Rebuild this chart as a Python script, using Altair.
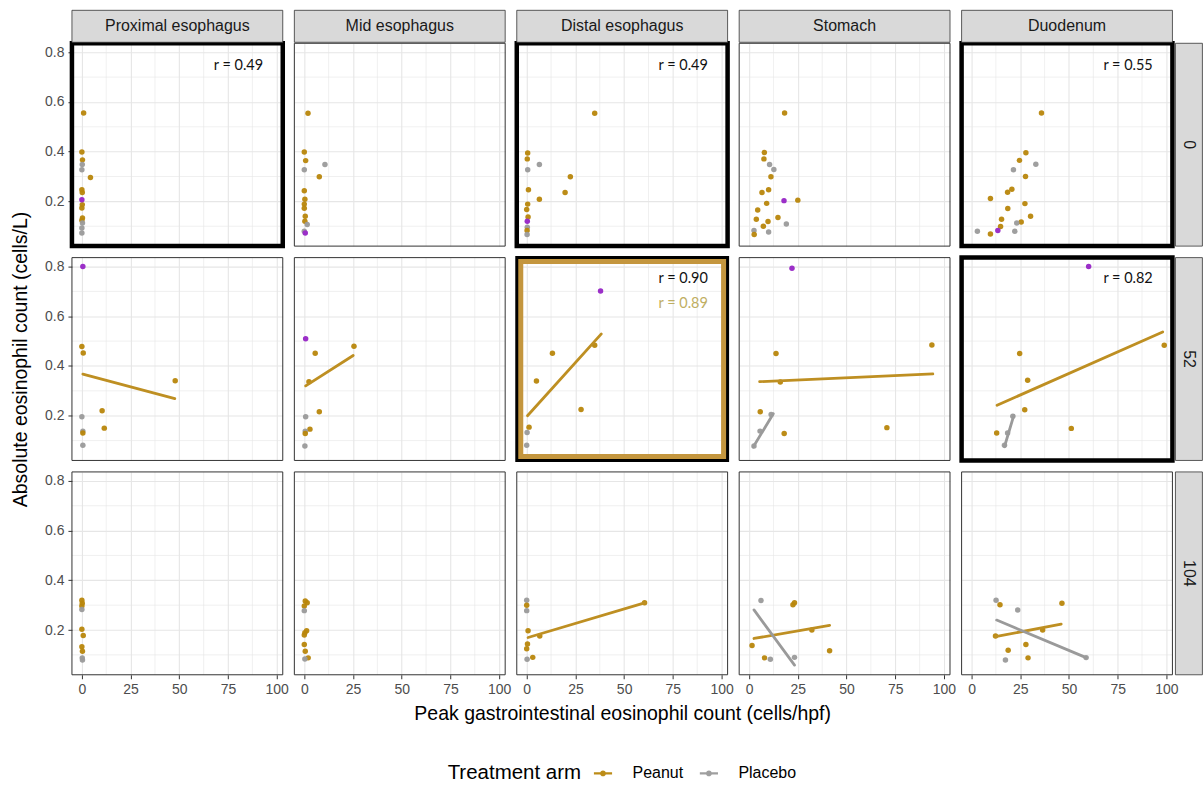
import altair as alt
import pandas as pd

SITES = ["Proximal esophagus", "Mid esophagus", "Distal esophagus", "Stomach", "Duodenum"]
WEEKS = ["0", "52", "104"]
ARMS = ["Peanut", "Placebo"]
ARM_COLORS = ["#B8860B", "#9A9A9A"]
HIGHLIGHT_COLOR = "#9B2FC8"

X_TICKS = [0, 25, 50, 75, 100]
X_MINOR = [12.5, 37.5, 62.5, 87.5]
Y_TICKS = [0.2, 0.4, 0.6, 0.8]
Y_MINOR = [0.1, 0.3, 0.5, 0.7]

P, C, H = "Peanut", "Placebo", "Highlight"

# ---- points (peak GI eos, absolute eos count, arm) ----
prox_0 = [(0.9, 0.556, P), (0, 0.399, P), (0.3, 0.367, P), (0.2, 0.348, C), (0, 0.327, C),
          (4.4, 0.296, P), (0, 0.247, P), (0.2, 0.236, P), (0, 0.207, H), (0.2, 0.187, P),
          (0, 0.173, P), (0.3, 0.133, P), (0, 0.124, P), (0.3, 0.113, C), (0, 0.093, C), (0, 0.073, C)]
mid_0 = [(1.9, 0.555, P), (0, 0.399, P), (0.7, 0.364, P), (10.6, 0.348, C), (0, 0.327, C),
         (7.7, 0.299, P), (0, 0.243, P), (0.3, 0.209, P), (0, 0.189, P), (0, 0.172, P),
         (0.5, 0.14, P), (0.3, 0.12, P), (1.5, 0.107, C), (0, 0.08, C), (0.5, 0.073, H)]
distal_0 = [(34.9, 0.555, P), (0.5, 0.395, P), (0.3, 0.371, P), (6.5, 0.348, C), (0.5, 0.327, C),
            (22.4, 0.299, P), (0.9, 0.247, P), (19.7, 0.236, P), (6.5, 0.209, P), (0.5, 0.189, P),
            (0, 0.167, P), (0.7, 0.137, P), (0.3, 0.096, C), (0.2, 0.083, P), (0.2, 0.067, C), (0.3, 0.12, H)]
stomach_0 = [(18.2, 0.556, P), (7.8, 0.397, P), (7.6, 0.371, P), (10.5, 0.348, C), (12.7, 0.328, C),
             (11.2, 0.299, P), (10, 0.247, P), (6.6, 0.236, P), (25.0, 0.205, P), (9.0, 0.192, P),
             (4.4, 0.165, P), (3.7, 0.128, P), (9.7, 0.119, P), (14.8, 0.135, P), (7.3, 0.1, P),
             (19.1, 0.109, C), (10, 0.077, C), (2.5, 0.083, C), (2.6, 0.067, P), (17.9, 0.203, H)]
duod_0 = [(35.9, 0.556, P), (27.9, 0.396, P), (24.6, 0.365, P), (33, 0.349, C), (21.5, 0.327, C),
          (27.7, 0.3, P), (20.7, 0.249, P), (18.5, 0.237, P), (9.7, 0.212, P), (27.4, 0.191, P),
          (18.6, 0.171, P), (15.4, 0.128, P), (30.3, 0.14, P), (25.5, 0.117, P), (23.2, 0.113, C),
          (14.9, 0.099, P), (22.2, 0.08, C), (3.0, 0.08, C), (9.7, 0.069, P), (13.5, 0.083, H)]

prox_52 = [(0, 0.478, P), (0.7, 0.452, P), (47.9, 0.341, P), (10.4, 0.22, P), (11.5, 0.15, P),
           (0, 0.196, C), (0.5, 0.138, C), (0.5, 0.13, P), (0.5, 0.081, C), (0.5, 0.8, H)]
mid_52 = [(5.6, 0.451, P), (25.5, 0.479, P), (2.4, 0.337, P), (7.7, 0.216, P), (0.7, 0.196, C),
          (2.9, 0.146, P), (0.5, 0.138, C), (0.5, 0.128, P), (0.3, 0.078, C), (0.7, 0.51, H)]
distal_52 = [(13.2, 0.451, P), (34.9, 0.483, P), (5.0, 0.34, P), (27.9, 0.225, P), (1.2, 0.154, P),
             (0.2, 0.132, C), (0, 0.081, C), (37.9, 0.702, H)]
stomach_52 = [(93.8, 0.484, P), (13.8, 0.45, P), (16, 0.336, P), (5.7, 0.216, P), (18, 0.128, P),
              (70.7, 0.152, P), (2.5, 0.078, C), (5.6, 0.138, C), (11.3, 0.205, C), (22, 0.793, H)]
duod_52 = [(98.9, 0.483, P), (24.7, 0.45, P), (28.8, 0.343, P), (27.3, 0.224, P), (51.2, 0.149, P),
           (12.9, 0.13, P), (16.9, 0.081, C), (18.5, 0.13, C), (21.2, 0.198, C), (60.1, 0.8, H)]

prox_104 = [(0, 0.32, P), (0.2, 0.308, P), (0, 0.297, P), (0, 0.283, C), (0, 0.203, P),
            (0.7, 0.178, P), (0, 0.133, P), (0.3, 0.115, P), (0.2, 0.088, C), (0.3, 0.079, C)]
mid_104 = [(0.5, 0.317, P), (1.5, 0.31, P), (0, 0.297, P), (0, 0.278, C), (1.2, 0.197, P),
           (0.3, 0.189, P), (0, 0.18, P), (0, 0.142, P), (0.5, 0.115, P), (2, 0.088, P), (0.3, 0.083, C)]
distal_104 = [(0, 0.32, C), (0, 0.3, P), (0, 0.278, C), (0.7, 0.197, P), (6.7, 0.176, P),
              (0.4, 0.144, P), (0, 0.125, P), (3.1, 0.09, P), (0.2, 0.082, C), (60.5, 0.31, P)]
stomach_104 = [(6.1, 0.319, C), (22.5, 0.302, P), (23.3, 0.31, P), (1.5, 0.138, P), (7.9, 0.088, P),
               (10.9, 0.082, C), (23.3, 0.09, C), (41.3, 0.117, P), (32.2, 0.2, P)]
duod_104 = [(12.6, 0.32, C), (14.6, 0.302, P), (23.7, 0.281, C), (46.4, 0.308, P), (27.9, 0.142, P),
            (18.8, 0.119, P), (29, 0.088, P), (17.4, 0.079, C), (12.3, 0.176, P), (36.5, 0.2, P),
            (58.8, 0.089, C)]

POINTS = [
    [prox_0, mid_0, distal_0, stomach_0, duod_0],
    [prox_52, mid_52, distal_52, stomach_52, duod_52],
    [prox_104, mid_104, distal_104, stomach_104, duod_104],
]

# ---- fitted lines (arm, x start, y start, x end, y end) ----
fit_prox_52 = [(P, 0.5, 0.367, 47.7, 0.269)]
fit_mid_52 = [(P, 0.7, 0.32, 25.1, 0.442)]
fit_distal_52 = [(P, 0.4, 0.2, 38.3, 0.529)]
fit_stomach_52 = [(P, 5.4, 0.337, 94.3, 0.368), (C, 2.1, 0.074, 12.4, 0.208)]
fit_duod_52 = [(P, 13.1, 0.242, 98.1, 0.537), (C, 16.9, 0.075, 21.7, 0.201)]
fit_distal_104 = [(P, 0.7, 0.17, 60.9, 0.31)]
fit_stomach_104 = [(P, 2.5, 0.166, 41.3, 0.219), (C, 2.5, 0.281, 23.3, 0.059)]
fit_duod_104 = [(P, 12.3, 0.173, 46.0, 0.224), (C, 12.9, 0.24, 58.8, 0.089)]

FITS = [
    [[], [], [], [], []],
    [fit_prox_52, fit_mid_52, fit_distal_52, fit_stomach_52, fit_duod_52],
    [[], [], fit_distal_104, fit_stomach_104, fit_duod_104],
]

# ---- correlation notes (text, colour, x, y) ----
NOTES = [
    [[("r = 0.49", "#111111", 93, 0.745)], [], [("r = 0.49", "#111111", 93, 0.745)], [],
     [("r = 0.55", "#111111", 93, 0.745)]],
    [[], [], [("r = 0.90", "#111111", 93, 0.748), ("r = 0.89", "#BFAE62", 93, 0.65)], [],
     [("r = 0.82", "#111111", 93, 0.748)]],
    [[], [], [], [], []],
]

# ---- panel highlight borders ----
BORDERS = [
    ["black", "", "black", "", "black"],
    ["", "", "gold", "", "black"],
    ["", "", "", "", ""],
]

W, HGT = 211, 203
XS = alt.Scale(domain=[-5.1, 103.1], nice=False, zero=False)
YS = alt.Scale(domain=[0.02, 0.836], nice=False, zero=False)
COLOR_SCALE = alt.Scale(domain=ARMS, range=ARM_COLORS)
LEGEND = alt.Legend(title="Treatment arm", orient="none", legendX=376, legendY=721)
GRID = "#E6E6E6"
FONT = "Liberation Sans"


def panel(ri, ci):
    pts = pd.DataFrame(POINTS[ri][ci], columns=["x", "y", "arm"])
    show_x = ri == 2
    show_y = ci == 0
    xt = "Peak gastrointestinal eosinophil count (cells/hpf)" if (show_x and ci == 2) else None
    yt = "Absolute eosinophil count (cells/L)" if (show_y and ri == 1) else None
    xaxis = alt.Axis(values=X_TICKS, grid=True, gridColor=GRID, gridWidth=1.1, labels=show_x,
                     ticks=show_x, domain=False, title=xt, labelFlush=False)
    yaxis = alt.Axis(values=Y_TICKS, grid=True, gridColor=GRID, gridWidth=1.1, labels=show_y,
                     ticks=show_y, domain=False, title=yt, format=".1f", labelFlush=False)

    minor_x = alt.Chart(pd.DataFrame({"v": X_MINOR})).mark_rule(color=GRID, strokeWidth=0.6).encode(
        x=alt.X("v:Q", scale=XS, axis=xaxis))
    minor_y = alt.Chart(pd.DataFrame({"v": Y_MINOR})).mark_rule(color=GRID, strokeWidth=0.6).encode(
        y=alt.Y("v:Q", scale=YS, axis=yaxis))

    arm_pts = pts[pts["arm"] != H]
    hi_pts = pts[pts["arm"] == H]
    layers = [minor_x, minor_y]
    layers.append(alt.Chart(arm_pts).mark_circle(size=30, opacity=0.95).encode(
        x=alt.X("x:Q", scale=XS, axis=xaxis),
        y=alt.Y("y:Q", scale=YS, axis=yaxis),
        color=alt.Color("arm:N", scale=COLOR_SCALE, legend=LEGEND)))
    if len(hi_pts):
        layers.append(alt.Chart(hi_pts).mark_circle(size=30, color=HIGHLIGHT_COLOR, opacity=1).encode(
            x=alt.X("x:Q", scale=XS), y=alt.Y("y:Q", scale=YS)))
    fits = FITS[ri][ci]
    if fits:
        fd = pd.DataFrame(fits, columns=["arm", "x", "y", "x2", "y2"])
        layers.append(alt.Chart(fd).mark_rule(strokeWidth=2.8, strokeCap="round").encode(
            x=alt.X("x:Q", scale=XS), y=alt.Y("y:Q", scale=YS),
            x2="x2:Q", y2="y2:Q",
            stroke=alt.Stroke("arm:N", scale=alt.Scale(domain=ARMS, range=["#BE8F22", "#9A9A9A"]),
                              legend=None)))
    for (txt, col, tx, ty) in NOTES[ri][ci]:
        layers.append(alt.Chart(pd.DataFrame({"t": [txt], "x": [tx], "y": [ty]})).mark_text(
            align="right", baseline="middle", font="Lato", fontSize=14.5, color=col).encode(
            x=alt.X("x:Q", scale=XS), y=alt.Y("y:Q", scale=YS), text="t:N"))

    one = pd.DataFrame({"k": [0]})
    b = BORDERS[ri][ci]
    if b == "black":
        layers.append(alt.Chart(one).mark_rect(fillOpacity=0, stroke="#000000", strokeWidth=4.5).encode(
            x=alt.value(0), x2=alt.value(W), y=alt.value(0), y2=alt.value(HGT)))
    elif b == "gold":
        layers.append(alt.Chart(one).mark_rect(fillOpacity=0, stroke="#C4963E", strokeWidth=6).encode(
            x=alt.value(3.5), x2=alt.value(W - 3.5), y=alt.value(3.5), y2=alt.value(HGT - 3.5)))
        layers.append(alt.Chart(one).mark_rect(fillOpacity=0, stroke="#000000", strokeWidth=3).encode(
            x=alt.value(0), x2=alt.value(W), y=alt.value(0), y2=alt.value(HGT)))
    else:
        layers.append(alt.Chart(one).mark_rect(fillOpacity=0, stroke="#333333", strokeWidth=1).encode(
            x=alt.value(0), x2=alt.value(W), y=alt.value(0), y2=alt.value(HGT)))

    if ri == 0:
        layers.append(alt.Chart(one).mark_rect(fill="#D9D9D9", stroke="#333333", strokeWidth=0.8).encode(
            x=alt.value(0), x2=alt.value(W), y=alt.value(-33), y2=alt.value(-1)))
        layers.append(alt.Chart(pd.DataFrame({"t": [SITES[ci]]})).mark_text(
            font=FONT, fontSize=16, color="#1A1A1A").encode(
            x=alt.value(W / 2), y=alt.value(-17), text="t:N"))
    if ci == 4:
        layers.append(alt.Chart(one).mark_rect(fill="#D9D9D9", stroke="#333333", strokeWidth=0.8).encode(
            x=alt.value(W + 3), x2=alt.value(W + 30), y=alt.value(0), y2=alt.value(HGT)))
        layers.append(alt.Chart(pd.DataFrame({"t": [WEEKS[ri]]})).mark_text(
            font=FONT, fontSize=16, color="#1A1A1A", angle=90).encode(
            x=alt.value(W + 16.5), y=alt.value(HGT / 2), text="t:N"))

    return alt.layer(*layers).properties(width=W, height=HGT)


panels = [panel(ri, ci) for ri in range(3) for ci in range(5)]

LEGEND_SYMBOL = ("M-1,-0.12L1,-0.12L1,0.12L-1,0.12Z "
                 "M0.32,0A0.32,0.32,0,1,1,-0.32,0A0.32,0.32,0,1,1,0.32,0Z")

chart = alt.concat(*panels, columns=5, spacing={"row": 11.5, "column": 11.6}, bounds="flush").properties(
    padding={"left": 10, "top": 9, "right": 0, "bottom": 4}
).configure_view(strokeWidth=0).configure_axis(
    labelFont=FONT, labelFontSize=14, labelColor="#4D4D4D", tickColor="#333333", tickSize=4,
    labelPadding=4, titleFont=FONT, titleFontSize=19.5, titleFontWeight="normal", titleColor="#000000",
    titlePadding=8
).configure_axisY(titlePadding=14).configure_legend(
    direction="horizontal", titleOrient="left", titleFont=FONT, titleFontSize=20.5,
    titleFontWeight="normal", titleColor="#000000", labelFont=FONT, labelFontSize=16,
    labelColor="#000000", symbolType=LEGEND_SYMBOL, symbolSize=330, symbolStrokeWidth=0,
    columnPadding=16, labelOffset=20, titlePadding=12
)

chart.save("out.html", embed_options={"renderer": "svg", "actions": False})
